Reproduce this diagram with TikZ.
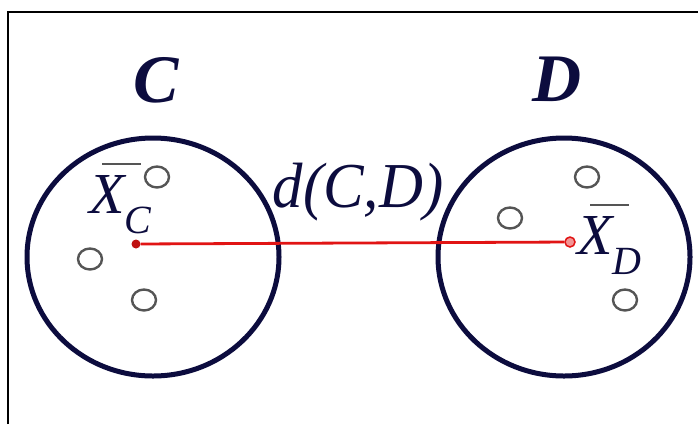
\documentclass[tikz,border=0pt]{standalone}
\usepackage{fontspec}
\setmainfont{Liberation Serif}
\usetikzlibrary{shapes.geometric}
\definecolor{navy}{RGB}{12,12,62}
\definecolor{dotgray}{RGB}{85,85,85}
\definecolor{lred}{RGB}{225,20,20}
\tikzset{
  cluster/.style={ellipse, draw=navy, line width=5pt, minimum width=252pt, minimum height=238pt, inner sep=0pt},
  pt/.style={ellipse, draw=dotgray, line width=2.4pt, minimum width=24pt, minimum height=21pt, inner sep=0pt},
  big/.style={text=navy, font=\fontsize{68}{68}\selectfont\bfseries\itshape, inner sep=0pt},
  lab/.style={text=navy, inner sep=0pt},
  bar/.style={draw=dotgray, line width=2pt},
}
\begin{document}
\begin{tikzpicture}[x=1pt,y=-1pt]
\useasboundingbox (0,0) rectangle (698,424);
\fill[white] (0,0) rectangle (698,424);
% frame (left and top edges)
\coordinate (fbl) at (8,424);
\coordinate (ftl) at (8,12);
\coordinate (ftr) at (698,12);
\draw[black, line width=1.5pt] (fbl) -- (ftl) -- (ftr);
% clusters
\node[cluster] (cc) at (153,257) {};
\node[cluster] (cd) at (564,257) {};
% labels
\node[big] (lc) at (156,80) {C};
\node[big] (ld) at (557,79) {D};
% points
\node[pt] (c1) at (157,177) {};
\node[pt] (c2) at (90,259) {};
\node[pt] (c3) at (144,300) {};
\node[pt] (d1) at (587,177) {};
\node[pt] (d2) at (510,218) {};
\node[pt] (d3) at (625,300) {};
% centroids
\node[circle, fill=lred!85!black, minimum size=9pt, inner sep=0pt] (mc) at (136,244) {};
\node[circle, draw=lred, fill=lred!45, line width=1.5pt, minimum size=10pt, inner sep=0pt] (md) at (570,242) {};
\draw[lred, line width=2.8pt] (mc) -- (md);
% distance label
\node[lab, font=\fontsize{64}{64}\selectfont\itshape, xscale=0.95] (dist) at (358,192) {d(C,D)};
% centroid labels
\node[lab, anchor=base west, font=\fontsize{58}{58}\selectfont\itshape] (xc) at (89,213) {X\raisebox{-0.35em}{\fontsize{40}{40}\selectfont C}};
\coordinate (bc1) at (102,164);
\coordinate (bc2) at (141,164);
\draw[bar] (bc1) -- (bc2);
\node[lab, anchor=base west, font=\fontsize{58}{58}\selectfont\itshape] (xd) at (577,254) {X\raisebox{-0.35em}{\fontsize{40}{40}\selectfont D}};
\coordinate (bd1) at (590,205);
\coordinate (bd2) at (629,205);
\draw[bar] (bd1) -- (bd2);
\end{tikzpicture}
\end{document}
